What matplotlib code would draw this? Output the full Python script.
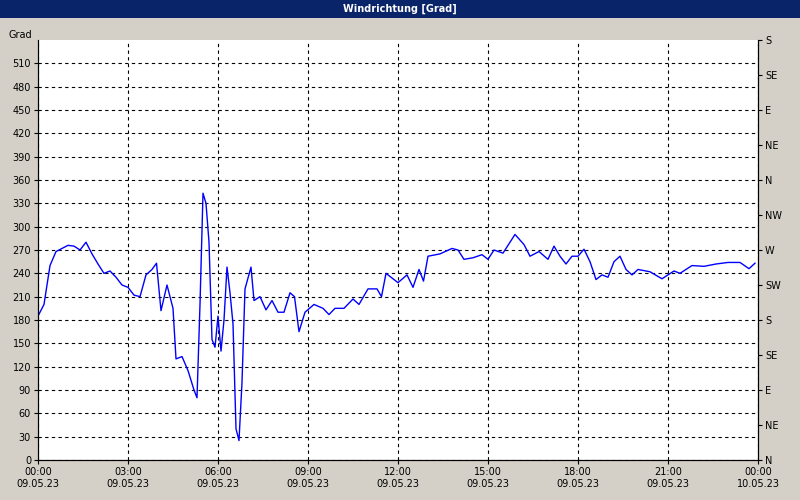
import matplotlib
matplotlib.use("Agg")
import matplotlib.pyplot as plt
from matplotlib.patches import Rectangle

hours = [0,0.2,0.4,0.6,0.8,1.0,1.2,1.4,1.6,1.8,2.0,2.2,2.4,2.6,2.8,3.0,3.2,3.4,3.6,3.8,3.95,4.1,4.3,4.5,4.6,4.8,5.0,5.2,5.3,5.4,5.5,5.6,5.7,5.8,5.9,6.0,6.1,6.2,6.3,6.4,6.5,6.6,6.7,6.8,6.9,7.1,7.2,7.4,7.6,7.8,8.0,8.2,8.4,8.55,8.7,8.9,9.2,9.5,9.7,9.9,10.2,10.5,10.7,11.0,11.3,11.45,11.6,12.0,12.3,12.5,12.7,12.85,13.0,13.4,13.8,14.0,14.2,14.5,14.8,15.0,15.2,15.5,15.9,16.2,16.4,16.7,17.0,17.2,17.4,17.6,17.8,18.0,18.2,18.4,18.6,18.8,19.0,19.2,19.4,19.6,19.8,20.0,20.4,20.8,21.2,21.4,21.8,22.2,22.6,23.0,23.4,23.7,23.9]
deg = [185,200,250,268,272,276,275,270,280,265,252,240,243,235,225,222,212,210,238,245,253,192,225,195,130,133,115,90,80,200,343,330,280,155,145,185,140,180,248,215,175,40,25,100,220,248,205,210,193,205,190,190,215,210,165,190,200,195,187,195,195,207,200,220,220,210,240,228,238,222,245,230,262,265,272,270,258,260,264,258,270,266,290,277,262,268,258,275,262,252,262,262,271,255,232,238,235,255,262,245,238,245,242,233,243,240,250,249,252,254,254,246,253]
xticks = [0,3,6,9,12,15,18,21,24]
xlabels = ["00:00\n09.05.23","03:00\n09.05.23","06:00\n09.05.23","09:00\n09.05.23","12:00\n09.05.23","15:00\n09.05.23","18:00\n09.05.23","21:00\n09.05.23","00:00\n10.05.23"]
yticks = list(range(0,511,30))
rticks = list(range(0,541,45))
rlabels = ["N","NE","E","SE","S","SW","W","NW","N","NE","E","SE","S"]

bg = "#d4d0c8"
fig = plt.figure(figsize=(8,5), dpi=100, facecolor=bg)
fig.patches.append(Rectangle((0,482/500),1,18/500,transform=fig.transFigure,facecolor="#0a246a",edgecolor="none"))
fig.text(0.5,491/500,"Windrichtung [Grad]",color="white",fontsize=7,fontweight="bold",ha="center",va="center")
ax = fig.add_axes([38/800,40/500,720/800,420/500])
ax.set_facecolor("white")
ax.plot(hours,deg,color="#0000ff",lw=1)
ax.set_xlim(0,24); ax.set_ylim(0,540)
ax.set_xticks(xticks); ax.set_xticklabels(xlabels,fontsize=7)
ax.set_yticks(yticks); ax.set_yticklabels([str(v) for v in yticks],fontsize=7)
ax.grid(True,color="black",ls=(0,(3,3)),lw=0.8)
ax.tick_params(length=3,pad=2)
ax2 = ax.twinx()
ax2.set_ylim(0,540)
ax2.set_yticks(rticks); ax2.set_yticklabels(rlabels,fontsize=7)
ax2.tick_params(length=3,pad=2)
for a in (ax,ax2):
    a.spines["top"].set_visible(False)
ax.text(-0.2,540,"Grad",fontsize=7,ha="right",va="bottom",transform=ax.transData)
fig.savefig("out.png",dpi=100,facecolor=bg)
